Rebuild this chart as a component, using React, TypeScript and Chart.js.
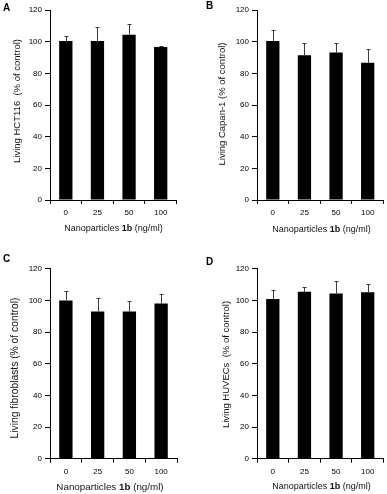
import React, { useEffect, useRef } from "react";
import { Chart, registerables } from "chart.js";

Chart.register(...registerables);

// ---- data ----
const doseLabels = ["0", "25", "50", "100"];
const yTickValues = [0, 20, 40, 60, 80, 100, 120];

const hct116Mean = [100.4, 100.4, 104.4, 96.6];
const hct116Err = [3.0, 9.1, 6.8, 0.8];

const capanMean = [100.4, 91.4, 93.1, 86.7];
const capanErr = [7.0, 8.0, 6.3, 8.8];

const fibroMean = [99.9, 93.0, 93.0, 98.0];
const fibroErr = [6.1, 8.2, 6.3, 6.1];

const huvecMean = [100.9, 105.5, 104.4, 105.1];
const huvecErr = [5.6, 2.9, 8.0, 5.4];

const panelLetters = ["A", "B", "C", "D"];
const yTitles = [
  "Living HCT116  (% of control)",
  "Living Capan-1 (% of control)",
  "Living fibroblasts (% of control)",
  "Living HUVECs  (% of control)",
];
const xTitleParts = ["Nanoparticles ", "1b", " (ng/ml)"];

// ---- layout (positions / styles) ----
const W = 193;
const H = 247;
const FONT = "'Liberation Sans', Arial, Helvetica, sans-serif";

const layouts = [
  { left: 0, top: 0, l: 50, r: 176.5, t: 10, b: 200, letter: [3, 8], yT: [17, 101, 9.5], xT: [113.5, 229, 9] },
  { left: 194, top: 0, l: 63, r: 189.5, t: 10, b: 200, letter: [12, 6], yT: [28.3, 104, 9.5], xT: [127.5, 229.3, 9] },
  { left: 0, top: 247, l: 50, r: 177, t: 21.7, b: 211.7, letter: [3, 12.5], yT: [15.5, 121, 10.3], xT: [110, 240.5, 9.8] },
  { left: 194, top: 247, l: 63, r: 189.5, t: 21.7, b: 211.7, letter: [12, 15], yT: [32, 117.5, 9.5], xT: [127.5, 239.5, 9] },
];

const means = [hct116Mean, capanMean, fibroMean, huvecMean];
const errs = [hct116Err, capanErr, fibroErr, huvecErr];

function Panel({ idx }: { idx: number }) {
  const ref = useRef<HTMLCanvasElement | null>(null);
  useEffect(() => {
    const canvas = ref.current;
    if (!canvas) return;
    const L = layouts[idx];
    const mean = means[idx];
    const err = errs[idx];

    const deco = {
      id: "deco" + idx,
      afterDatasetsDraw(chart: any) {
        const ctx = chart.ctx;
        const meta = chart.getDatasetMeta(0);
        const ys = chart.scales.y;
        ctx.save();
        ctx.strokeStyle = "#3a3a3a";
        ctx.lineWidth = 1;
        meta.data.forEach((el: any, i: number) => {
          const x = Math.round(el.x) + 0.5;
          const yTop = Math.round(ys.getPixelForValue(mean[i] + err[i])) + 0.5;
          const yBar = el.y;
          ctx.beginPath();
          ctx.moveTo(x, yBar);
          ctx.lineTo(x, yTop);
          ctx.moveTo(x - 2, yTop);
          ctx.lineTo(x + 2, yTop);
          ctx.stroke();
        });
        ctx.restore();
      },
      afterDraw(chart: any) {
        const ctx = chart.ctx;
        ctx.save();
        ctx.fillStyle = "#000";
        // panel letter
        ctx.font = `bold 10px ${FONT}`;
        ctx.textAlign = "left";
        ctx.textBaseline = "middle";
        ctx.fillText(panelLetters[idx], L.letter[0], L.letter[1]);
        // y title
        ctx.save();
        ctx.translate(L.yT[0], L.yT[1]);
        ctx.rotate(-Math.PI / 2);
        ctx.font = `${L.yT[2]}px ${FONT}`;
        ctx.textAlign = "center";
        ctx.fillStyle = "#111";
        ctx.fillText(yTitles[idx], 0, 0);
        ctx.restore();
        // x title with bold part
        const sz = L.xT[2];
        const fonts = [`${sz}px ${FONT}`, `bold ${sz}px ${FONT}`, `${sz}px ${FONT}`];
        const widths = xTitleParts.map((t, i) => {
          ctx.font = fonts[i];
          return ctx.measureText(t).width;
        });
        const total = widths.reduce((a, b) => a + b, 0);
        let x = L.xT[0] - total / 2;
        ctx.textAlign = "left";
        ctx.fillStyle = "#111";
        xTitleParts.forEach((t, i) => {
          ctx.font = fonts[i];
          ctx.fillText(t, x, L.xT[1]);
          x += widths[i];
        });
        ctx.restore();
      },
    };

    const tickFont = { family: FONT, size: 8 };
    const chart = new Chart(canvas, {
      type: "bar",
      data: {
        labels: doseLabels,
        datasets: [
          {
            data: mean,
            backgroundColor: "#000",
            borderWidth: 0,
            barPercentage: 0.42,
            categoryPercentage: 1,
          },
        ],
      },
      options: {
        responsive: false,
        animation: false,
        devicePixelRatio: 1,
        layout: { padding: { left: 0, top: L.t, right: W - L.r, bottom: 0 } },
        plugins: { legend: { display: false }, tooltip: { enabled: false }, title: { display: false } },
        scales: {
          x: {
            grid: { display: true, drawOnChartArea: false, drawTicks: true, tickLength: 4, color: "#000", offset: true },
            border: { display: true, color: "#000", width: 1 },
            ticks: { font: tickFont, color: "#000", padding: 4, maxRotation: 0, autoSkip: false },
            afterFit: (s: any) => {
              s.height = H - L.b;
            },
          },
          y: {
            min: 0,
            max: 120,
            grid: { display: true, drawOnChartArea: false, drawTicks: true, tickLength: 5, color: "#000" },
            border: { display: true, color: "#000", width: 1 },
            ticks: { font: tickFont, color: "#000", padding: 3 },
            afterBuildTicks: (s: any) => {
              s.ticks = yTickValues.map((v) => ({ value: v }));
            },
            afterFit: (s: any) => {
              s.width = L.l;
            },
          },
        },
      } as any,
      plugins: [deco],
    });
    return () => chart.destroy();
  }, [idx]);

  const L = layouts[idx];
  return (
    <canvas
      ref={ref}
      width={W}
      height={H}
      style={{ position: "absolute", left: L.left, top: L.top, width: W, height: H }}
    />
  );
}

export default function App() {
  return (
    <div style={{ position: "absolute", left: 0, top: 0, width: 387, height: 494, background: "#fff" }}>
      {[0, 1, 2, 3].map((i) => (
        <Panel key={i} idx={i} />
      ))}
    </div>
  );
}
